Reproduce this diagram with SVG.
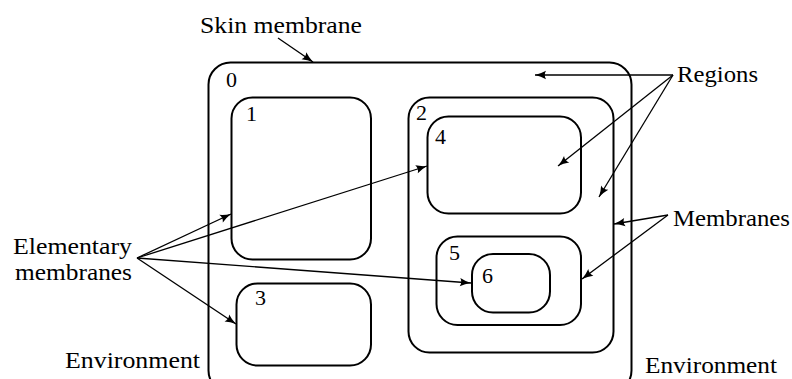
<svg xmlns="http://www.w3.org/2000/svg" width="792" height="379" viewBox="0 0 792 379">
  <style>
    .mem { fill: none; stroke: #000; stroke-width: 2; }
    .arr { fill: none; stroke: #000; stroke-width: 1.3; marker-end: url(#tip); }
  </style>
  <defs>
    <marker id="tip" markerUnits="userSpaceOnUse" markerWidth="14" markerHeight="10" refX="11" refY="5" orient="auto" overflow="visible">
      <path d="M0,0.8 Q5,3.6 11,5 Q5,6.4 0,9.2 Q2.5,5 0,0.8 Z" fill="#000"/>
    </marker>
  </defs>

  <rect width="792" height="379" fill="#fff"/>

  <!-- membranes, each with its region number -->
  <g id="m0"><rect class="mem" x="208.5" y="62.5" width="423" height="330" rx="22"/><text font-family="Liberation Serif" font-size="22" x="226" y="87">0</text></g>
  <g id="m1"><rect class="mem" x="231.5" y="97.5" width="139.5" height="162" rx="21"/><text font-family="Liberation Serif" font-size="22" x="246" y="121">1</text></g>
  <g id="m3"><rect class="mem" x="236.5" y="283.5" width="134.5" height="82" rx="21"/><text font-family="Liberation Serif" font-size="22" x="255" y="305">3</text></g>
  <g id="m2"><rect class="mem" x="408.5" y="97.5" width="205" height="255" rx="21"/><text font-family="Liberation Serif" font-size="22" x="416" y="120">2</text></g>
  <g id="m4"><rect class="mem" x="427.5" y="116.5" width="153.5" height="97" rx="21"/><text font-family="Liberation Serif" font-size="22" x="435" y="144">4</text></g>
  <g id="m5"><rect class="mem" x="436.5" y="236.5" width="144.5" height="88.5" rx="21"/><text font-family="Liberation Serif" font-size="22" x="449" y="260">5</text></g>
  <g id="m6"><rect class="mem" x="472" y="254" width="78" height="58.5" rx="21"/><text font-family="Liberation Serif" font-size="22" x="482" y="282.5">6</text></g>

  <!-- annotations -->
  <g id="labels">
    <text font-family="Liberation Serif" font-size="24" x="200" y="33" textLength="162" lengthAdjust="spacingAndGlyphs">Skin membrane</text>
    <text font-family="Liberation Serif" font-size="24" x="677" y="82" textLength="81" lengthAdjust="spacingAndGlyphs">Regions</text>
    <text font-family="Liberation Serif" font-size="24" x="673" y="226" textLength="117" lengthAdjust="spacingAndGlyphs">Membranes</text>
    <text font-family="Liberation Serif" font-size="24" x="13" y="254" textLength="119" lengthAdjust="spacingAndGlyphs">Elementary</text>
    <text font-family="Liberation Serif" font-size="24" x="15" y="280" textLength="117" lengthAdjust="spacingAndGlyphs">membranes</text>
    <text font-family="Liberation Serif" font-size="24" x="65" y="368" textLength="135" lengthAdjust="spacingAndGlyphs">Environment</text>
    <text font-family="Liberation Serif" font-size="24" x="645" y="373" textLength="132" lengthAdjust="spacingAndGlyphs">Environment</text>
  </g>

  <!-- connectors -->
  <g id="connectors">
    <path class="arr" d="M278,38 L313,62"/>
    <path class="arr" d="M673,75 L535,75"/>
    <path class="arr" d="M673,75 L558,166"/>
    <path class="arr" d="M673,75 L599,197"/>
    <path class="arr" d="M668,215 L614,224"/>
    <path class="arr" d="M668,215 L582,279"/>
    <path class="arr" d="M137,258 L231,214"/>
    <path class="arr" d="M137,258 L427,166"/>
    <path class="arr" d="M137,258 L236,324"/>
    <path class="arr" d="M137,258 L471,283"/>
  </g>
</svg>
